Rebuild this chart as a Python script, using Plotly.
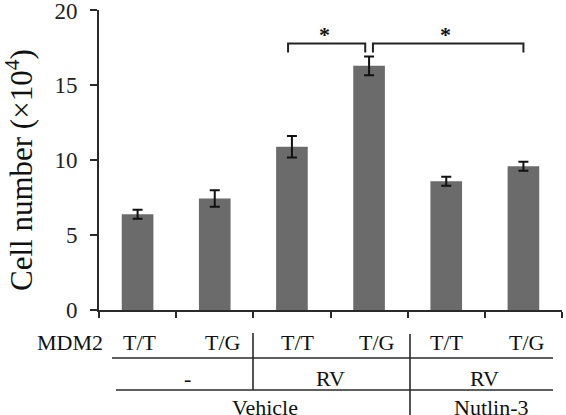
import plotly.graph_objects as go

categories = ["T/T (-)", "T/G (-)", "T/T (RV)", "T/G (RV)", "T/T (RV+N)", "T/G (RV+N)"]
genotype_labels = ["T/T", "T/G", "T/T", "T/G", "T/T", "T/G"]
values = [6.4, 7.45, 10.9, 16.3, 8.6, 9.6]
errors = [0.3, 0.55, 0.72, 0.62, 0.3, 0.3]
y_ticks = [0, 5, 10, 15, 20]
treatment_labels = ["-", "RV", "RV"]
drug_labels = ["Vehicle", "Nutlin-3"]
sig_pairs = [(1.95, 2.95), (3.05, 5.0)]
sig_level = 17.8

W, H = 566, 415
L, R, T, B = 99, 4, 10, 105
pw = W - L - R
ph = H - T - B

def px2paper_x(px):
    return (px - L) / pw

def px2paper_y(py):
    return (H - B - py) / ph

FONT = "Liberation Serif"
LC = "#2a2a2a"
TXT = "#111111"
TABLE_SIZE = 22

fig = go.Figure()
fig.add_trace(go.Bar(
    x=list(range(len(values))), y=values,
    marker=dict(color="#6b6b6b", line=dict(width=0)),
    width=0.41,
    error_y=dict(type="data", array=errors, visible=True, color="#111",
                 thickness=2, width=5),
))

shapes = []
annotations = []

# significance brackets
for (a, b) in sig_pairs:
    drop = 0.6
    shapes.append(dict(type="path", xref="x", yref="y",
                       path=f"M {a},{sig_level - drop} L {a},{sig_level} L {b},{sig_level} L {b},{sig_level - drop}",
                       line=dict(color="#222", width=2)))
    annotations.append(dict(x=(a + b) / 2 - 0.03, y=sig_level + 0.6, xref="x", yref="y",
                            text="<b>*</b>", showarrow=False, yanchor="middle",
                            font=dict(family=FONT, size=22, color=TXT)))

# table below the axis
row1_y = 342
row2_y = 378
row3_y = 407
line1_y = 358
line2_y = 390

annotations.append(dict(x=px2paper_x(70), y=px2paper_y(row1_y), xref="paper", yref="paper",
                        text="MDM2", showarrow=False, xanchor="center", yanchor="middle",
                        font=dict(family=FONT, size=TABLE_SIZE, color=TXT)))
offsets = [2, 8, 6, 8, 1, 4]
for i, lab in enumerate(genotype_labels):
    cx = L + pw * (i + 0.5) / len(genotype_labels) + offsets[i]
    annotations.append(dict(x=px2paper_x(cx), y=px2paper_y(row1_y), xref="paper", yref="paper",
                            text=lab, showarrow=False, xanchor="center", yanchor="middle",
                            font=dict(family=FONT, size=TABLE_SIZE, color=TXT)))

treat_x = [187, 330, 484]
for lab, cx in zip(treatment_labels, treat_x):
    annotations.append(dict(x=px2paper_x(cx), y=px2paper_y(row2_y), xref="paper", yref="paper",
                            text=lab, showarrow=False, xanchor="center", yanchor="middle",
                            font=dict(family=FONT, size=TABLE_SIZE, color=TXT)))
drug_x = [265, 491]
for lab, cx in zip(drug_labels, drug_x):
    annotations.append(dict(x=px2paper_x(cx), y=px2paper_y(row3_y), xref="paper", yref="paper",
                            text=lab, showarrow=False, xanchor="center", yanchor="middle",
                            font=dict(family=FONT, size=TABLE_SIZE, color=TXT)))

def pline(x0, y0, x1, y1):
    shapes.append(dict(type="line", xref="paper", yref="paper",
                       x0=px2paper_x(x0), y0=px2paper_y(y0), x1=px2paper_x(x1), y1=px2paper_y(y1),
                       line=dict(color=LC, width=1.6)))

pline(112, line1_y, 553, line1_y)
pline(116, line2_y, 553, line2_y)
pline(253, 333, 253, line2_y)
pline(410, 334, 410, 415)

# y-axis title
annotations.append(dict(x=px2paper_x(19), y=px2paper_y(170), xref="paper", yref="paper",
                        text="Cell number (×10<sup>4</sup>)", textangle=-90, showarrow=False,
                        xanchor="center", yanchor="middle",
                        font=dict(family=FONT, size=31, color=TXT)))

fig.update_layout(
    width=W, height=H, margin=dict(l=L, r=R, t=T, b=B, autoexpand=False),
    paper_bgcolor="white", plot_bgcolor="white",
    showlegend=False, shapes=shapes, annotations=annotations,
    xaxis=dict(range=[-0.5, len(values) - 0.5], tickvals=[i - 0.5 for i in range(len(values) + 1)],
               showticklabels=False, ticks="outside", ticklen=6, tickwidth=1.5, tickcolor=LC,
               showline=True, linecolor=LC, linewidth=1.6, showgrid=False, zeroline=False),
    yaxis=dict(range=[0, 20.03], tickvals=y_ticks,
               ticks="outside", ticklen=7, tickwidth=1.5, ticklabeloverflow="allow",
               tickcolor=LC, showline=True, linecolor=LC, linewidth=1.6, showgrid=False,
               zeroline=False, ticklabelstandoff=8,
               tickfont=dict(family=FONT, size=23, color="#222")),
)

fig.write_html("out.html", config={"displayModeBar": False},
               post_script="document.body.style.margin='0';document.body.style.overflow='hidden';")
